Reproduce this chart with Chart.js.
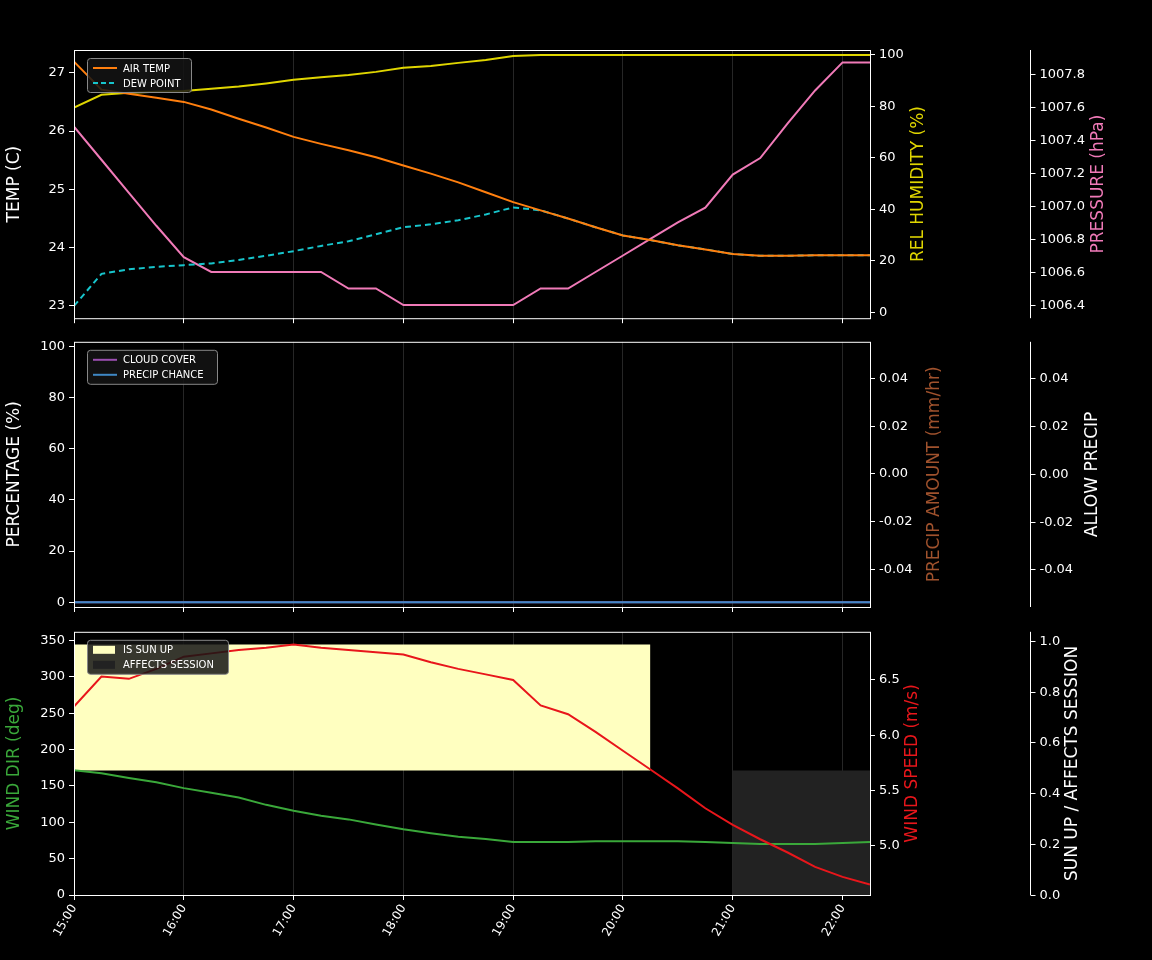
<!DOCTYPE html>
<html>
<head>
<meta charset="utf-8">
<script src="https://cdn.jsdelivr.net/npm/chart.js@4.4.1/dist/chart.umd.min.js"></script>
<style>
  body { margin: 0; background: #000; width: 1152px; height: 960px; overflow: hidden; position: relative; font-family: "DejaVu Sans", sans-serif; }
  canvas { position: absolute; left: 0; }
  #title { position: absolute; top: 16px; left: 0; width: 1152px; text-align: center; color: #fff; font-size: 19.5px; }
</style>
</head>
<body>
<div id="title">DIRTcar Street Stock Rookie Racing Series - 2025 Season 3 2025S3 Week7 @ USA International Speedway</div>
<canvas id="c1" width="1152" height="330" style="top:0"></canvas>
<canvas id="c2" width="1152" height="290" style="top:330px"></canvas>
<canvas id="c3" width="1152" height="340" style="top:620px"></canvas>
<script>
// 15-minute steps from 15:00 to 22:15
const TIMES = ['15:00','15:15','15:30','15:45','16:00','16:15','16:30','16:45','17:00','17:15','17:30','17:45',
  '18:00','18:15','18:30','18:45','19:00','19:15','19:30','19:45','20:00','20:15','20:30','20:45',
  '21:00','21:15','21:30','21:45','22:00','22:15']
const HOUR_TICKS = [15, 16, 17, 18, 19, 20, 21, 22]

const airTemp = [27.19,26.71,26.64,26.57,26.50,26.37,26.21,26.06,25.90,25.78,25.67,25.55,
  25.41,25.27,25.12,24.95,24.78,24.64,24.50,24.35,24.21,24.13,24.04,23.97,23.89,23.86,23.86,23.87,23.87,23.87]
const dewPoint = [23.00,23.55,23.63,23.67,23.70,23.73,23.79,23.86,23.94,24.03,24.11,24.23,
  24.35,24.40,24.47,24.57,24.69,24.64,24.50,24.35,24.21,24.13,24.04,23.97,23.89,23.86,23.86,23.87,23.87,23.87]
const relHumidity = [79.5,84.5,85.3,85.7,86.0,86.8,87.7,88.9,90.3,91.3,92.2,93.4,
  95.0,95.7,96.9,98.0,99.6,100,100,100,100,100,100,100,100,100,100,100,100,100]
const pressure = [1007.48,1007.28,1007.08,1006.88,1006.69,1006.6,1006.6,1006.6,1006.6,1006.6,1006.5,1006.5,
  1006.4,1006.4,1006.4,1006.4,1006.4,1006.5,1006.5,1006.6,1006.7,1006.8,1006.9,1006.99,
  1007.19,1007.29,1007.5,1007.7,1007.87,1007.87]

const cloudCover = TIMES.map(() => 0)
const precipChance = TIMES.map(() => 0)

const windDir = [171.6,167.6,161,155,147,140.5,134,124,116,109,104,97,
  90.5,85,80,77,73,73,73,74,74,74,74,73,71.6,70,70,70,71.6,73]
const windSpeed = [6.26,6.53,6.51,6.60,6.71,6.74,6.77,6.79,6.82,6.79,6.77,6.75,
  6.73,6.66,6.60,6.55,6.50,6.27,6.19,6.03,5.86,5.69,5.52,5.34,5.19,5.06,4.94,4.81,4.72,4.65]
const sunUpTop = [0.985,0.985,0.985,0.985,0.985,0.985,0.985,0.985,0.985,0.985,0.985,0.985,
  0.985,0.985,0.985,0.985,0.985,0.985,0.985,0.985,0.985,0.985,null,null,null,null,null,null,null,null]
const sunUpBase = sunUpTop.map(v => v === null ? null : 0.49)
const affectsSession = [null,null,null,null,null,null,null,null,null,null,null,null,
  null,null,null,null,null,null,null,null,null,null,null,null,0.49,0.49,0.49,0.49,0.49,0.49]

const TEMP_TICKS = [23, 24, 25, 26, 27]
const PCT_TICKS = [0, 20, 40, 60, 80, 100]
const PRESSURE_TICKS = [1006.4, 1006.6, 1006.8, 1007.0, 1007.2, 1007.4, 1007.6, 1007.8]
const PRECIP_TICKS = [-0.04, -0.02, 0, 0.02, 0.04]
const WDIR_TICKS = [0, 50, 100, 150, 200, 250, 300, 350]
const WSPD_TICKS = [5.0, 5.5, 6.0, 6.5]
const SUN_TICKS = [0, 0.2, 0.4, 0.6, 0.8, 1.0]

const hours = TIMES.map(t => { const [h, m] = t.split(':'); return +h + m / 60 })
const pts = arr => arr.map((v, i) => ({ x: hours[i], y: v }))

Chart.defaults.font.family = '"DejaVu Sans", sans-serif'
Chart.defaults.color = '#fff'

const tickFont = { size: 13 }

const frame = {
  id: 'frame',
  beforeDraw(chart) {
    const { ctx } = chart
    ctx.save(); ctx.fillStyle = '#000'; ctx.fillRect(0, 0, chart.width, chart.height); ctx.restore()
  },
  afterDraw(chart, args, opts) {
    const { ctx, chartArea: a } = chart
    ctx.save()
    ctx.strokeStyle = '#fff'; ctx.lineWidth = 1
    ctx.strokeRect(a.left + 0.5, a.top + 0.5, a.right - a.left, a.bottom - a.top)
    // third axis: spine, ticks and labels
    const s = chart.scales.y2
    const sx = 1030.5
    ctx.beginPath(); ctx.moveTo(sx, a.top); ctx.lineTo(sx, a.bottom); ctx.stroke()
    ctx.font = '13px "DejaVu Sans", sans-serif'
    ctx.textAlign = 'left'; ctx.textBaseline = 'middle'; ctx.fillStyle = '#fff'
    s.ticks.forEach(t => {
      const py = Math.round(s.getPixelForValue(t.value)) + 0.5
      ctx.beginPath(); ctx.moveTo(sx, py); ctx.lineTo(sx + 5, py); ctx.stroke()
      ctx.fillText(opts.fmt2(t.value), sx + 9, py)
    })
    // right titles
    ctx.font = '17px "DejaVu Sans", sans-serif'
    ctx.textAlign = 'center'; ctx.textBaseline = 'middle'
    opts.titles.forEach(t => {
      ctx.save(); ctx.translate(t.x, (a.top + a.bottom) / 2); ctx.rotate(-Math.PI / 2)
      ctx.fillStyle = t.color; ctx.fillText(t.text, 0, 0); ctx.restore()
    })
    // legend
    const L = opts.legend
    const lx = a.left + 13, ly = a.top + 8
    ctx.fillStyle = 'rgba(20,20,20,0.85)'; ctx.strokeStyle = '#888'
    ctx.beginPath(); ctx.roundRect(lx + 0.5, ly + 0.5, L.width, 34, 3); ctx.fill(); ctx.stroke()
    ctx.font = '10px "DejaVu Sans", sans-serif'; ctx.textAlign = 'left'
    L.items.forEach((it, i) => {
      const yy = ly + 10 + i * 15
      if (it.patch) {
        ctx.fillStyle = it.color; ctx.fillRect(lx + 6, yy - 4, 22, 8)
      } else {
        ctx.strokeStyle = it.color; ctx.lineWidth = 2; ctx.setLineDash(it.dash || [])
        ctx.beginPath(); ctx.moveTo(lx + 6, yy); ctx.lineTo(lx + 30, yy); ctx.stroke(); ctx.setLineDash([])
      }
      ctx.fillStyle = '#fff'; ctx.fillText(it.text, lx + 36, yy + 1)
    })
    ctx.restore()
  }
}

function yAxis(pos, min, max, tickVals, fmt, title, color, weight) {
  const ax = {
    type: 'linear', position: pos, min, max, weight,
    afterBuildTicks: s => { s.ticks = tickVals.map(v => ({ value: v })) },
    ticks: { font: tickFont, color: '#fff', callback: fmt, padding: 4 },
    grid: { display: true, drawOnChartArea: false, color: '#fff', tickLength: 5, tickColor: '#fff' },
    border: { display: false },
    title: { display: !!title, text: title, color, font: { size: 17 }, padding: 4 }
  }
  if (pos === 'left') ax.afterFit = s => { s.width = 74 }
  else if (weight === 0) ax.afterFit = s => { s.width = 80 }
  else {
    ax.afterFit = s => { s.width = 202 }
    ax.grid = { display: false }
    ax.ticks = { display: false }
  }
  return ax
}

function xAxis(showLabels, height) {
  return {
    type: 'linear', min: 15, max: 22.25,
    afterBuildTicks: s => { s.ticks = HOUR_TICKS.map(v => ({ value: v })) },
    afterFit: s => { s.height = height },
    ticks: {
      display: showLabels, font: { size: 12 }, color: '#fff', maxRotation: 60, minRotation: 60, padding: 2,
      callback: v => String(v) + ':00'
    },
    grid: { color: '#262626', tickColor: '#fff', tickLength: 5, lineWidth: 1 },
    border: { display: false }
  }
}

const line = (label, data, color, axis, extra) => Object.assign({
  label, data: pts(data), borderColor: color, backgroundColor: color, yAxisID: axis,
  borderWidth: 2, pointRadius: 0, tension: 0, fill: false, spanGaps: false
}, extra || {})

function make(id, datasets, scales, padTop, titles, legend, fmt2) {
  return new Chart(document.getElementById(id), {
    type: 'line',
    data: { datasets },
    options: {
      responsive: false, animation: false, devicePixelRatio: 1,
      layout: { padding: { top: padTop, left: 0, right: 0, bottom: 0 } },
      plugins: { legend: { display: false }, tooltip: { enabled: false }, frame: { titles, legend, fmt2 } },
      scales
    },
    plugins: [frame]
  })
}

make('c1', [
  line('AIR TEMP', airTemp, '#ff7f0e', 'y'),
  line('DEW POINT', dewPoint, '#17c5cc', 'y', { borderDash: [6, 4] }),
  line('REL HUMIDITY', relHumidity, '#e0d600', 'y1'),
  line('PRESSURE', pressure, '#f07ab8', 'y2')
], {
  x: xAxis(false, 11),
  y: yAxis('left', 22.79, 27.39, TEMP_TICKS, v => String(v), 'TEMP (C)', '#fff'),
  y1: yAxis('right', -2.3, 101.9, PCT_TICKS, v => String(v), '', '#fff', 0),
  y2: yAxis('right', 1006.32, 1007.945, PRESSURE_TICKS, null, '', '#fff', 1)
}, 50, [
  { text: 'REL HUMIDITY (%)', x: 919, color: '#e0d600' },
  { text: 'PRESSURE (hPa)', x: 1099, color: '#f07ab8' }
], { width: 104, items: [
  { text: 'AIR TEMP', color: '#ff7f0e' },
  { text: 'DEW POINT', color: '#17c5cc', dash: [5, 3] }
] }, v => v.toFixed(1))

make('c2', [
  line('CLOUD COVER', cloudCover, '#9b4fb0', 'y', { order: 2 }),
  line('PRECIP CHANCE', precipChance, '#3f88c5', 'y', { order: 1 })
], {
  x: xAxis(false, 13),
  y: yAxis('left', -1.9, 101.9, PCT_TICKS, v => String(v), 'PERCENTAGE (%)', '#fff'),
  y1: yAxis('right', -0.0557, 0.0553, PRECIP_TICKS, v => v.toFixed(2), '', '#fff', 0),
  y2: yAxis('right', -0.0557, 0.0553, PRECIP_TICKS, null, '', '#fff', 1)
}, 8, [
  { text: 'PRECIP AMOUNT (mm/hr)', x: 935, color: '#a0522d' },
  { text: 'ALLOW PRECIP', x: 1093, color: '#fff' }
], { width: 130, items: [
  { text: 'CLOUD COVER', color: '#9b4fb0' },
  { text: 'PRECIP CHANCE', color: '#3f88c5' }
] }, v => v.toFixed(2))

make('c3', [
  line('SUN BASE', sunUpBase, 'rgba(0,0,0,0)', 'y2', { order: 10, borderWidth: 0 }),
  line('IS SUN UP', sunUpTop, 'rgba(0,0,0,0)', 'y2', { order: 9, borderWidth: 0, fill: '-1', backgroundColor: '#ffffc0' }),
  line('AFFECTS SESSION', affectsSession, 'rgba(0,0,0,0)', 'y2', { order: 9, borderWidth: 0, fill: 'start', backgroundColor: '#222222' }),
  line('WIND DIR', windDir, '#3aa83a', 'y', { order: 2 }),
  line('WIND SPEED', windSpeed, '#e8161b', 'y1', { order: 1 })
], {
  x: xAxis(true, 65),
  y: yAxis('left', 0, 362, WDIR_TICKS, v => String(v), 'WIND DIR (deg)', '#3aa83a'),
  y1: yAxis('right', 4.556, 6.935, WSPD_TICKS, v => v.toFixed(1), '', '#fff', 0),
  y2: yAxis('right', 0, 1.035, SUN_TICKS, null, '', '#fff', 1)
}, 7, [
  { text: 'WIND SPEED (m/s)', x: 913, color: '#e8161b' },
  { text: 'SUN UP / AFFECTS SESSION', x: 1073, color: '#fff' }
], { width: 141, items: [
  { text: 'IS SUN UP', color: '#ffffc0', patch: true },
  { text: 'AFFECTS SESSION', color: '#222222', patch: true }
] }, v => v.toFixed(1))
</script>
